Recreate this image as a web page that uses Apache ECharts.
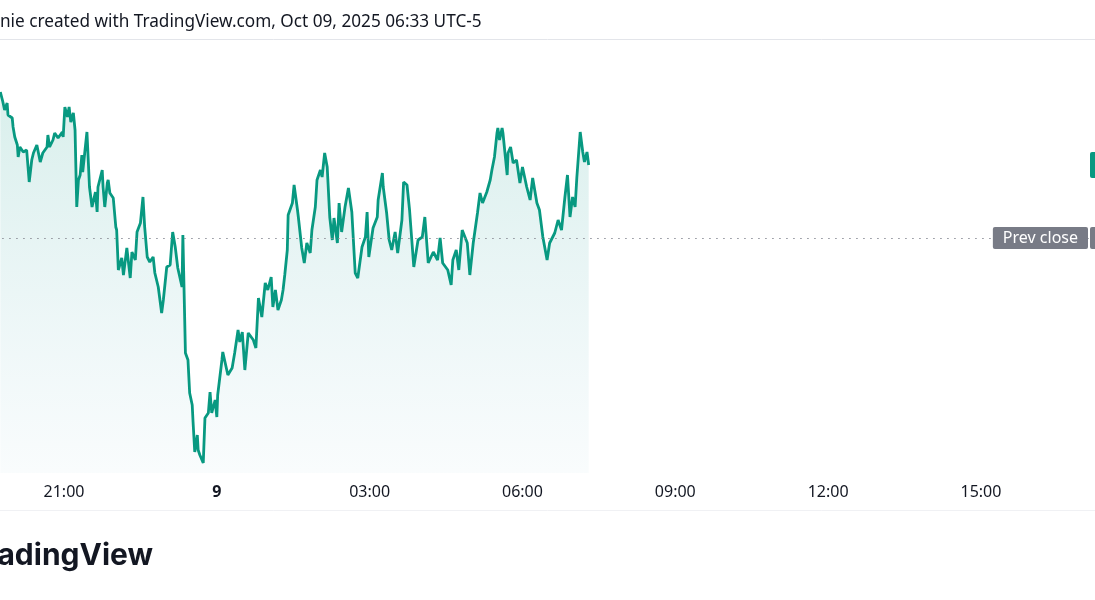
<!DOCTYPE html>
<html>
<head>
<meta charset="utf-8">
<script src="https://cdn.jsdelivr.net/npm/echarts@6/dist/echarts.min.js"></script>
<style>
  html, body { margin: 0; padding: 0; background: #fff; }
  #chart { width: 1095px; height: 600px; }
</style>
</head>
<body>
<div id="chart"></div>
<script>
// intraday prints, evening of Oct 8 into the morning of Oct 9 (UTC-5)
const times = [
  "19:45","19:48","19:50","19:53","19:54","19:59","20:00","20:02","20:05","20:06",
  "20:08","20:12","20:16","20:19","20:22","20:24","20:28","20:32","20:35","20:40",
  "20:41","20:43","20:47","20:49","20:53","20:58","20:59","21:01","21:04","21:06",
  "21:08","21:11","21:13","21:15","21:17","21:19","21:21","21:22","21:27","21:28",
  "21:30","21:33","21:37","21:39","21:40","21:45","21:46","21:48","21:51","21:52",
  "21:54","21:58","22:01","22:02","22:04","22:08","22:10","22:14","22:18","22:20",
  "22:24","22:26","22:30","22:33","22:35","22:38","22:41","22:45","22:47","22:51",
  "22:55","22:57","23:01","23:05","23:08","23:11","23:14","23:19","23:20","23:23",
  "23:26","23:28","23:31","23:32","23:34","23:37","23:38","23:40","23:44","23:46",
  "23:50","23:52","23:54","23:58","00:00","00:01","00:06","00:07","00:13","00:18",
  "00:21","00:25","00:27","00:30","00:33","00:37","00:43","00:46","00:49","00:53",
  "00:57","01:00","01:04","01:06","01:09","01:12","01:16","01:18","01:20","01:23",
  "01:24","01:29","01:31","01:35","01:36","01:40","01:43","01:46","01:50","01:52",
  "01:56","01:58","02:02","02:04","02:07","02:10","02:13","02:16","02:18","02:22",
  "02:24","02:27","02:31","02:35","02:39","02:43","02:46","02:51","02:55","02:57",
  "02:59","03:04","03:09","03:10","03:15","03:16","03:20","03:23","03:26","03:30",
  "03:33","03:38","03:40","03:44","03:47","03:52","03:57","04:02","04:05","04:09",
  "04:15","04:20","04:23","04:26","04:32","04:36","04:38","04:42","04:45","04:49",
  "04:55","04:58","05:02","05:07","05:10","05:13","05:18","05:22","05:24","05:27",
  "05:30","05:31","05:33","05:36","05:37","05:42","05:43","05:46","05:49","05:53",
  "05:57","06:00","06:05","06:09","06:12","06:17","06:20","06:24","06:29","06:32",
  "06:38","06:42","06:46","06:50","06:53","06:56","06:59","07:02","07:04","07:08",
  "07:11","07:13","07:16","07:18"
];
const prices = [
  101.46,101.36,101.28,101.35,101.23,101.20,101.11,101.01,100.93,100.81,
  100.91,100.86,100.88,100.56,100.78,100.85,100.93,100.76,100.85,100.91,
  101.03,100.91,100.98,101.05,101.00,101.06,101.01,101.31,101.21,101.31,
  101.16,101.25,101.08,100.31,100.58,100.63,100.83,100.66,101.06,100.88,
  100.51,100.31,100.46,100.26,100.51,100.68,100.51,100.31,100.55,100.58,
  100.45,100.40,100.11,100.08,99.68,99.80,99.63,99.90,99.60,99.86,
  99.78,100.06,100.15,100.41,100.11,99.81,99.76,99.81,99.65,99.51,
  99.25,99.38,99.71,99.73,100.06,99.91,99.70,99.51,100.03,98.85,
  98.78,98.45,98.33,98.16,97.86,98.03,97.88,97.83,97.75,98.20,
  98.25,98.46,98.25,98.38,98.21,98.43,98.78,98.86,98.63,98.70,
  98.85,99.08,98.96,99.06,98.68,99.05,98.98,98.90,99.40,99.21,
  99.55,99.48,99.61,99.31,99.48,99.28,99.38,99.48,99.63,99.88,
  100.23,100.35,100.53,100.28,100.21,99.90,99.75,99.95,99.85,100.08,
  100.31,100.58,100.68,100.61,100.85,100.71,100.21,99.98,100.20,99.95,
  100.35,100.06,100.31,100.50,100.26,99.65,99.60,99.91,100.01,100.26,
  99.81,100.10,100.21,100.38,100.65,100.51,100.25,99.98,99.88,100.06,
  99.85,100.18,100.56,100.53,100.28,99.71,99.98,100.01,100.21,99.75,
  99.86,99.78,100.00,99.75,99.68,99.53,99.78,99.88,99.68,100.08,
  99.95,99.63,99.95,100.25,100.45,100.35,100.46,100.58,100.68,100.81,
  101.05,101.10,100.98,101.10,101.05,100.63,100.85,100.91,100.75,100.78,
  100.55,100.71,100.51,100.38,100.60,100.35,100.28,100.01,99.78,99.95,
  100.05,100.18,100.08,100.41,100.63,100.21,100.41,100.31,100.60,101.06,
  100.86,100.76,100.86,100.73
];
const prevClose = 100.00;
// time scale: a tick every 3 hours, midnight shows the day of month instead
const tickStep = 180;        // minutes
const axisStart = "18:00";   // first (off-screen) tick
const axisEnd = 2467.3;      // minutes since Oct 8 00:00, right edge of the pane
const dayLabel = "9";
const headerText = "nie created with TradingView.com, Oct 09, 2025 06:33 UTC-5";

// minutes since Oct 8 00:00 (morning hours belong to Oct 9)
function toMin(t) {
  const h = +t.slice(0, 2), m = +t.slice(3, 5);
  return h * 60 + m + (h < 12 ? 1440 : 0);
}
const pad = n => (n < 10 ? "0" : "") + n;
const seriesData = times.map((t, i) => [toMin(t), prices[i]]);
const lastPrice = prices[prices.length - 1];

const chart = echarts.init(document.getElementById("chart"));
chart.setOption({
  animation: false,
  backgroundColor: "#ffffff",
  // the pane starts left of the screenshot's crop, so the grid begins off-canvas
  grid: { left: -88.8, right: 6, top: 40, bottom: 127, outerBoundsMode: "none", containLabel: false },
  xAxis: {
    type: "value",
    min: toMin(axisStart),
    max: axisEnd,
    interval: tickStep,
    axisLine: { show: false },
    axisTick: { show: false },
    splitLine: { show: false },
    axisLabel: {
      showMinLabel: false,
      showMaxLabel: false,
      margin: 11,
      color: "#131722",
      fontSize: 16,
      fontFamily: "Noto Sans",
      formatter: function (v) {
        if (v % tickStep !== 0) return "";
        const m = v % 1440;
        if (m === 0) return "{day|" + dayLabel + "}";
        return pad(Math.floor(m / 60)) + ":" + pad(m % 60);
      },
      rich: { day: { fontWeight: "bold", fontSize: 16, color: "#131722", fontFamily: "Noto Sans" } }
    }
  },
  yAxis: { type: "value", show: false, min: 97.65, max: 101.98 },
  series: [{
    type: "line",
    data: seriesData,
    symbol: "none",
    lineStyle: { color: "#089981", width: 2.8 },
    areaStyle: {
      color: new echarts.graphic.LinearGradient(0, 0, 0, 1, [
        { offset: 0, color: "rgba(8,153,129,0.22)" },
        { offset: 1, color: "rgba(41,150,175,0.04)" }
      ])
    },
    markLine: {
      silent: true,
      symbol: "none",
      data: [
        {
          yAxis: prevClose,
          lineStyle: { type: [1.5, 5.5], color: "#8a8d96", width: 1 },
          label: {
            show: true, position: "insideEnd", distance: 1,
            formatter: "Prev close", color: "#ffffff", backgroundColor: "#787b86",
            fontFamily: "Noto Sans", fontSize: 16, lineHeight: 14,
            padding: [4, 10], borderRadius: 2
          }
        },
        {
          yAxis: prevClose,
          lineStyle: { width: 0, color: "rgba(0,0,0,0)" },
          label: {
            show: true, position: "end", distance: 1, opacity: 1,
            formatter: prevClose.toFixed(2), color: "#ffffff", backgroundColor: "#787b86",
            fontFamily: "Noto Sans", fontSize: 16, lineHeight: 14, padding: [4, 8], borderRadius: 2
          }
        },
        {
          yAxis: lastPrice,
          lineStyle: { width: 0, color: "rgba(0,0,0,0)" },
          label: {
            show: true, position: "end", distance: 1, opacity: 1,
            formatter: lastPrice.toFixed(2), color: "#ffffff", backgroundColor: "#089981",
            fontFamily: "Noto Sans", fontSize: 16, lineHeight: 16, padding: [5, 8], borderRadius: 2
          }
        }
      ]
    }
  }],
  graphic: [
    {
      type: "text", x: 0, y: 22,
      style: { text: headerText, fill: "#131722", font: '17.2px "Noto Sans"', verticalAlign: "middle" }
    },
    { type: "line", shape: { x1: 0, y1: 39.5, x2: 1095, y2: 39.5 }, style: { stroke: "#e3e5ea", lineWidth: 1 } },
    { type: "line", shape: { x1: 0, y1: 510.5, x2: 1095, y2: 510.5 }, style: { stroke: "#f0f1f4", lineWidth: 1 } },
    {
      type: "text", x: 153, y: 556,
      style: { text: "TradingView", fill: "#131722", font: 'bold 30px Inter', align: "right", verticalAlign: "middle" }
    }
  ]
});
</script>
</body>
</html>
